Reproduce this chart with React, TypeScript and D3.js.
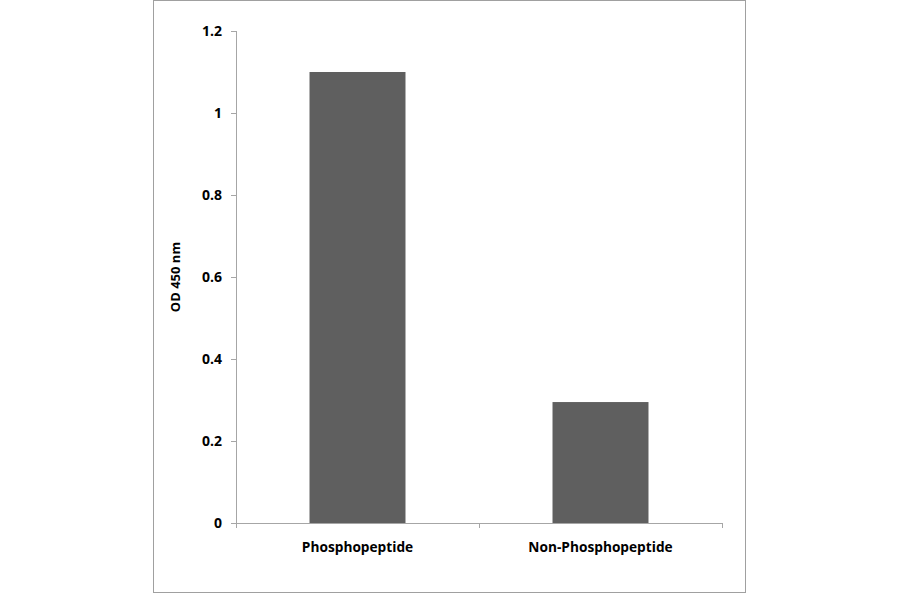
import React from 'react';
import * as d3 from 'd3';

const categories = ['Phosphopeptide', 'Non-Phosphopeptide'];
const values = [1.1, 0.295];
const yTicks = [0, 0.2, 0.4, 0.6, 0.8, 1, 1.2];
const yTitle = 'OD 450 nm';

const FONT = '"Open Sans", Lato, sans-serif';

export default function App() {
    const width = 900;
    const height = 594;
    const plot = { left: 236, right: 722, top: 31, bottom: 523 };

    const x = d3.scaleBand<string>()
        .domain(categories)
        .range([plot.left, plot.right])
        .paddingInner(0.605)
        .paddingOuter(0.3025);

    const y = d3.scaleLinear()
        .domain([0, 1.2])
        .range([plot.bottom, plot.top]);

    const axisColor = '#a6a6a6';
    const step = x.step();
    const xTickPositions = d3.range(categories.length + 1).map(i => plot.left + i * step);

    return (
        <div style={{ position: 'absolute', left: 0, top: 0 }}>
            <svg width={width} height={height} style={{ display: 'block' }}>
                <rect x={0} y={0} width={width} height={height} fill="#ffffff" />
                <rect x={153.5} y={0.5} width={592} height={592} fill="none" stroke="#a0a0a0" strokeWidth={1} />

                {/* bars */}
                {categories.map((c, i) => (
                    <rect key={c}
                        x={x(c)}
                        y={y(values[i])}
                        width={x.bandwidth()}
                        height={y(0) - y(values[i])}
                        fill="#5f5f5f" />
                ))}

                {/* y axis */}
                <line x1={plot.left + 0.5} x2={plot.left + 0.5} y1={y(1.2)} y2={y(0)} stroke={axisColor} />
                {yTicks.map(t => (
                    <g key={t} transform={`translate(0,${Math.round(y(t)) + 0.5})`}>
                        <line x1={plot.left - 5} x2={plot.left} stroke={axisColor} />
                        <text x={222} dy="0.35em" textAnchor="end" fontFamily={FONT}
                            fontWeight="bold" fontSize={14} fill="#000">{d3.format('~g')(t)}</text>
                    </g>
                ))}

                {/* x axis */}
                <line x1={plot.left} x2={plot.right} y1={y(0) + 0.5} y2={y(0) + 0.5} stroke={axisColor} />
                {xTickPositions.map((px, i) => (
                    <line key={i} x1={px + 0.5} x2={px + 0.5} y1={y(0)} y2={y(0) + 5} stroke={axisColor} />
                ))}
                {categories.map(c => (
                    <text key={c} x={(x(c) ?? 0) + x.bandwidth() / 2} y={552} textAnchor="middle"
                        fontFamily={FONT} fontWeight="bold" fontSize={13.7} fill="#000">{c}</text>
                ))}

                {/* y title */}
                <text transform={`translate(180,${(plot.top + plot.bottom) / 2}) rotate(-90)`}
                    textAnchor="middle" fontFamily={FONT} fontWeight="bold" fontSize={13} fill="#000">{yTitle}</text>
            </svg>
        </div>
    );
}
